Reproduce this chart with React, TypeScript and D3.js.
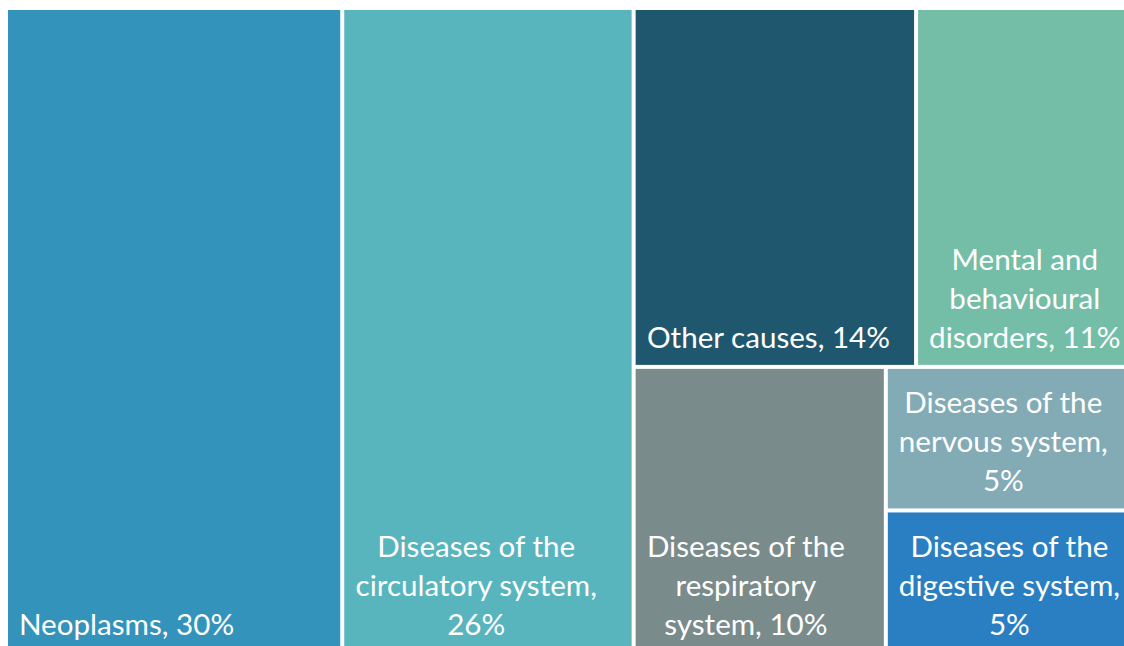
import React, { useMemo } from "react";
import * as d3 from "d3";

// Causes and their shares (%), in drawing order
const causes = [
  "Neoplasms",
  "Diseases of the circulatory system",
  "Other causes",
  "Mental and behavioural disorders",
  "Diseases of the respiratory system",
  "Diseases of the nervous system",
  "Diseases of the digestive system",
];
const shares = [30, 26, 14, 11, 10, 5, 5];

// Wrapped label text for each cause
const labelLines = [
  ["Neoplasms, 30%"],
  ["Diseases of the", "circulatory system,", "26%"],
  ["Other causes, 14%"],
  ["Mental and", "behavioural", "disorders, 11%"],
  ["Diseases of the", "respiratory", "system, 10%"],
  ["Diseases of the", "nervous system,", "5%"],
  ["Diseases of the", "digestive system,", "5%"],
];

const colors = [
  "#3493BA",
  "#58B5BE",
  "#1F586E",
  "#74BEA7",
  "#7A8B8C",
  "#82ABB5",
  "#2A7FC2",
];

// Nesting of the tiles: two full-height columns, then a block split into
// a top row (2 tiles) and a bottom row (1 tile + a stacked pair)
const grouping: any[] = [0, 1, [[2, 3], [4, [5, 6]]]];

const W = 1124;
const H = 646;
const OFFSET_X = 8;
const OFFSET_Y = 10;
const MAP_W = 1128;
const MAP_H = 642;
const FONT = "Lato, 'Open Sans', sans-serif";
const FONT_SIZE = 29.6;
const LINE_H = 39;

type Node = { idx?: number; children?: Node[] };

function build(g: any): Node {
  if (Array.isArray(g)) return { children: g.map(build) };
  return { idx: g };
}

export default function App() {
  const leaves = useMemo(() => {
    const root = d3
      .hierarchy<Node>(build(grouping))
      .sum((d) => (d.idx !== undefined ? shares[d.idx] : 0));
    d3
      .treemap<Node>()
      .tile(d3.treemapSliceDice)
      .size([MAP_W, MAP_H])
      .paddingInner(4)
      .paddingOuter(0)(root);
    return root.leaves() as d3.HierarchyRectangularNode<Node>[];
  }, []);

  const measure = useMemo(() => {
    const ctx = document.createElement("canvas").getContext("2d")!;
    ctx.font = `${FONT_SIZE}px Lato`;
    return (s: string) => ctx.measureText(s).width;
  }, []);

  return (
    <div
      style={{
        position: "fixed",
        left: 0,
        top: 0,
        width: W,
        height: H,
        overflow: "hidden",
        background: "#fff",
      }}
    >
      <svg width={W} height={H} style={{ display: "block" }}>
        <g transform={`translate(${OFFSET_X},${OFFSET_Y})`}>
          {leaves.map((leaf) => {
            const i = leaf.data.idx!;
            const lines = labelLines[i];
            const blockW = d3.max(lines, (l) => measure(l)) ?? 0;
            const cx = leaf.x0 + 11 + blockW / 2;
            const lastBase = leaf.y1 - 17;
            return (
              <g key={causes[i]}>
                <rect
                  x={leaf.x0}
                  y={leaf.y0}
                  width={leaf.x1 - leaf.x0}
                  height={leaf.y1 - leaf.y0}
                  fill={colors[i]}
                />
                <text
                  fill="#fff"
                  fontFamily={FONT}
                  fontSize={FONT_SIZE}
                  textAnchor="middle"
                >
                  {lines.map((l, k) => (
                    <tspan
                      key={k}
                      x={cx}
                      y={lastBase - (lines.length - 1 - k) * LINE_H}
                    >
                      {l}
                    </tspan>
                  ))}
                </text>
              </g>
            );
          })}
        </g>
      </svg>
    </div>
  );
}
